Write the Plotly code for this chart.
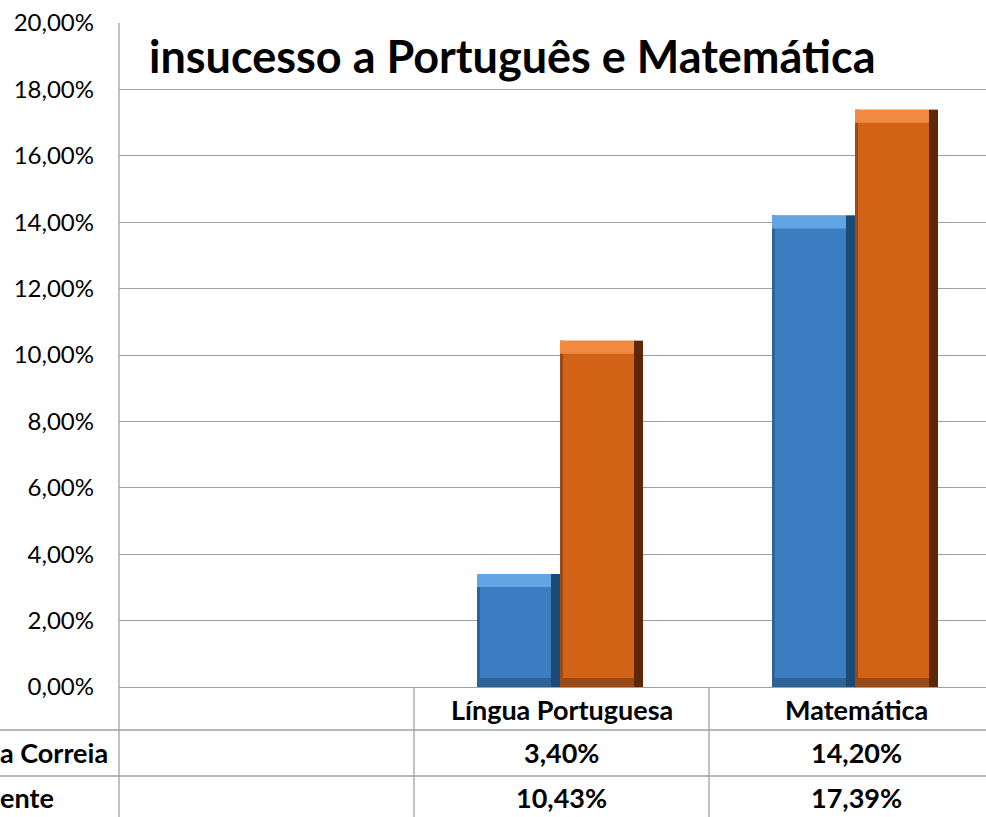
import plotly.graph_objects as go

# ---- data ----
categories = ["", "Língua Portuguesa", "Matemática"]
series_names = ["a Correia", "ente"]
series_a = [None, 0.0340, 0.1420]
series_b = [None, 0.1043, 0.1739]
title_text = "insucesso a Português e Matemática"
y_ticks = [0, 0.02, 0.04, 0.06, 0.08, 0.10, 0.12, 0.14, 0.16, 0.18, 0.20]

# ---- geometry / style ----
W, H = 986, 817
ML, MT, MB = 119, 23, 130
PW = W - ML
PH = H - MT - MB
CAT_PX = 295.0
BAR_W = 83.0 / CAT_PX
FONT = "Lato"
GRID = "#A0A0A0"

face = ["#3A7DC0", "#D26216"]
light = ["#62A5E4", "#F28B42"]
dark = ["#1D4A75", "#5E2808"]
bottom = ["#2E6396", "#9A4A16"]

px_y = 0.20 / PH           # data units per pixel (y)
px_x = 1.0 / CAT_PX        # data units per pixel (x)
TOP_B, BOT_B = 13 * px_y, 9 * px_y
RIGHT_B, LEFT_B = 9 * px_x, 3 * px_x
SHIFT = -1.5 * px_x

xs = list(range(len(categories)))
fig = go.Figure()

def add_bar(vals, idx, offset):
    def keep(f):
        return [f(v) if v is not None else None for v in vals]
    fig.add_trace(go.Bar(x=xs, y=vals, offset=offset, width=BAR_W, base=0,
                         marker=dict(color=face[idx], line=dict(width=0)),
                         name=series_names[idx], showlegend=False))
    fig.add_trace(go.Bar(x=xs, y=keep(lambda v: BOT_B), offset=offset, width=BAR_W, base=0,
                         marker=dict(color=bottom[idx], line=dict(width=0)),
                         showlegend=False, hoverinfo="skip"))
    fig.add_trace(go.Bar(x=xs, y=vals, offset=offset, width=LEFT_B, base=0,
                         marker=dict(color=bottom[idx], line=dict(width=0)),
                         showlegend=False, hoverinfo="skip"))
    fig.add_trace(go.Bar(x=xs, y=vals, offset=offset + BAR_W - RIGHT_B, width=RIGHT_B, base=0,
                         marker=dict(color=dark[idx], line=dict(width=0)),
                         showlegend=False, hoverinfo="skip"))
    fig.add_trace(go.Bar(x=xs, y=keep(lambda v: TOP_B),
                         base=keep(lambda v: v - TOP_B),
                         offset=offset, width=BAR_W - RIGHT_B,
                         marker=dict(color=light[idx], line=dict(width=0)),
                         showlegend=False, hoverinfo="skip"))

add_bar(series_a, 0, -BAR_W + SHIFT)
add_bar(series_b, 1, 0.0 + SHIFT)

def fmt(v):
    return ("%.2f%%" % (v * 100)).replace(".", ",")

shapes = []
annotations = []

def py(pix):
    return 1 - (pix - MT) / PH
def pxp(pix):
    return (pix - ML) / PW

row_lines = [730, 776]
for r in row_lines:
    shapes.append(dict(type="line", xref="paper", yref="paper", x0=pxp(0), x1=1,
                       y0=py(r), y1=py(r), line=dict(color=GRID, width=1.3)))
shapes.append(dict(type="line", xref="paper", yref="paper", x0=0, x1=0,
                   y0=1, y1=py(H + 5), line=dict(color=GRID, width=1.3)))
for i in range(len(categories) - 1):
    shapes.append(dict(type="line", xref="x", yref="paper", x0=i + 0.5, x1=i + 0.5,
                       y0=0, y1=py(H + 5), line=dict(color=GRID, width=1.3)))

cell_font = dict(family=FONT, size=27, color="#000000")
header_y = py(709)
row_y = [py(753), py(797.5)]
for i, c in enumerate(categories):
    if c:
        annotations.append(dict(x=i, y=header_y, xref="x", yref="paper", text="<b>%s</b>" % c,
                                showarrow=False, xanchor="center", yanchor="middle", font=cell_font))
for s, vals in enumerate([series_a, series_b]):
    annotations.append(dict(x=pxp(-2), y=row_y[s], xref="paper", yref="paper",
                            text="<b>%s</b>" % series_names[s], showarrow=False,
                            xanchor="left", yanchor="middle", font=cell_font))
    for i, v in enumerate(vals):
        if v is not None:
            annotations.append(dict(x=i, y=row_y[s], xref="x", yref="paper",
                                    text="<b>%s</b>" % fmt(v), showarrow=False,
                                    xanchor="center", yanchor="middle", font=cell_font))

annotations.append(dict(x=pxp(147), y=py(56), xref="paper", yref="paper",
                        text="<b>%s</b>" % title_text, showarrow=False,
                        xanchor="left", yanchor="middle",
                        font=dict(family=FONT, size=45, color="#000000")))

fig.update_layout(
    width=W, height=H,
    margin=dict(l=ML, r=0, t=MT, b=MB, autoexpand=False),
    paper_bgcolor="white", plot_bgcolor="white",
    barmode="overlay",
    separators=",.",
    showlegend=False,
    shapes=shapes,
    annotations=annotations,
    font=dict(family=FONT, size=20, color="#000000"),
)
fig.update_xaxes(range=[-0.5, -0.5 + PW / CAT_PX], showticklabels=False, showgrid=False,
                 zeroline=False, showline=True, linecolor=GRID, linewidth=1.3, ticks="",
                 fixedrange=True)
fig.update_yaxes(range=[0, 0.20], tickvals=y_ticks, tickformat=".2%", showgrid=True,
                 gridcolor=GRID, gridwidth=1.3, zeroline=False, showline=False,
                 ticks="", ticklabelstandoff=24,
                 tickfont=dict(family=FONT, size=24, color="#000000"), fixedrange=True)

fig.write_html("out.html", config={"displayModeBar": False},
               post_script="document.body.style.margin='0';document.body.style.overflow='hidden';")
